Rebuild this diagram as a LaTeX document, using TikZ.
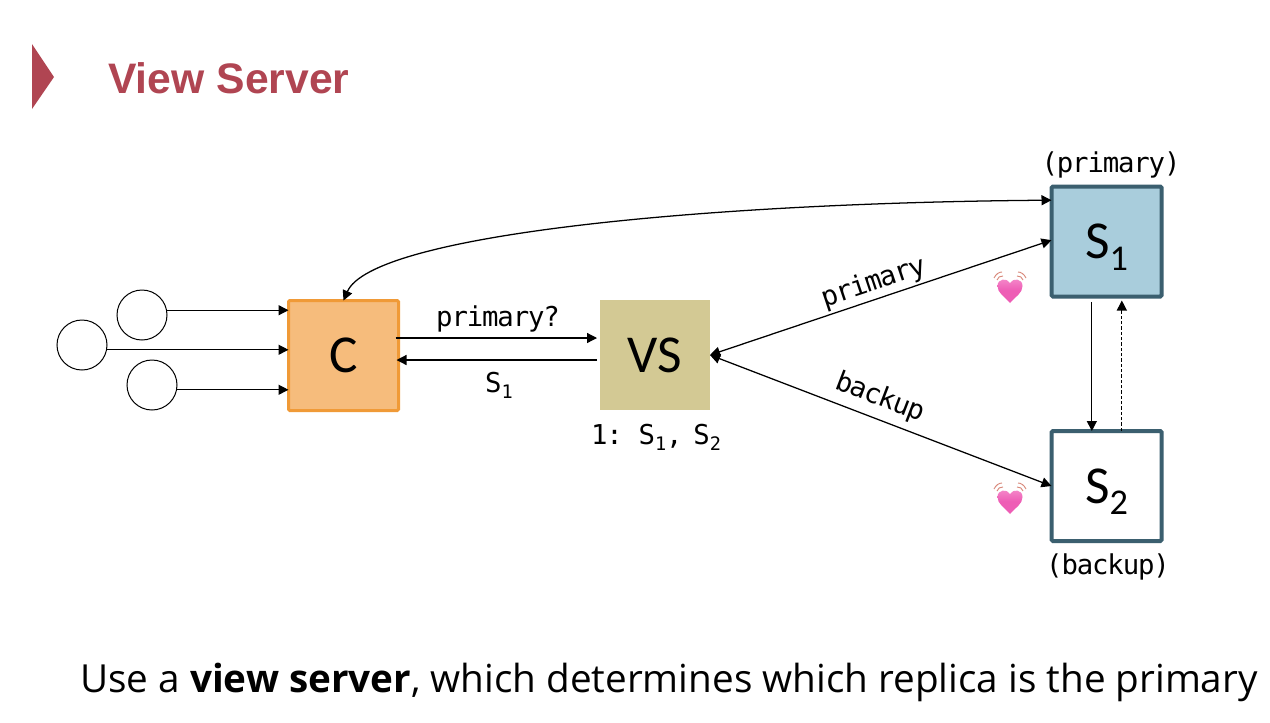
\documentclass[tikz,border=0pt]{standalone}
\usepackage{fontspec}
\setmainfont{Open Sans}
\newfontfamily\arialf{Liberation Sans}
\newfontfamily\calf{Carlito}
\newfontfamily\monof[LetterSpace=-4.2]{DejaVu Sans Mono}
\usetikzlibrary{arrows.meta}
\definecolor{titlered}{HTML}{B04552}
\definecolor{corange}{HTML}{F6BC7C}
\definecolor{corangeb}{HTML}{F09A37}
\definecolor{vskhaki}{HTML}{D3C994}
\definecolor{sblue}{HTML}{A9CDDC}
\definecolor{sborder}{HTML}{3B5F6F}
\definecolor{heartpink}{HTML}{EE5DB5}
\definecolor{hearttop}{HTML}{F58CCB}
\definecolor{heartwave}{HTML}{D98A7C}
\newcommand\lowsub[1]{\smash{\raisebox{-.22em}{\scalebox{.68}{#1}}}}
\tikzset{
  x=0.75pt,y=-0.75pt,
  >={Triangle[length=7.5pt,width=7.5pt]},
  conn/.style={line width=0.95pt,black},
  box/.style={minimum size=82.5pt,inner sep=0pt,outer sep=0pt,font=\calf\fontsize{40pt}{42pt}\selectfont},
  clientbox/.style={box,draw=corangeb,fill=corange,line width=2.25pt,rounded corners=1pt},
  viewbox/.style={box,fill=vskhaki},
  primarybox/.style={box,draw=sborder,fill=sblue,line width=3pt,rounded corners=1pt},
  backupbox/.style={box,draw=sborder,fill=white,line width=3pt,rounded corners=1pt},
  caller/.style={circle,draw=black,fill=white,line width=0.75pt,minimum size=37.5pt,inner sep=0pt,outer sep=0pt},
  monolabel/.style={font=\monof\fontsize{20.5pt}{22pt}\selectfont,black,inner sep=0pt,anchor=base},
  beat/.pic={
    \shade[top color=hearttop,bottom color=heartpink,middle color=heartpink] (0,23) .. controls (-6,16) and (-12.5,13) .. (-12.5,6)
       .. controls (-12.5,-1.5) and (-3,-2.5) .. (0,3)
       .. controls (3,-2.5) and (12.5,-1.5) .. (12.5,6)
       .. controls (12.5,13) and (6,16) .. (0,23) -- cycle;
    \draw[heartwave,line width=0.7pt] (-16,-2) .. controls (-14,-6) and (-11,-8) .. (-8,-8);
    \draw[heartwave,line width=0.7pt] (-13,0) .. controls (-12,-3) and (-10,-4) .. (-7,-4);
    \draw[heartwave,line width=0.7pt] (16,-2) .. controls (14,-6) and (11,-8) .. (8,-8);
    \draw[heartwave,line width=0.7pt] (13,0) .. controls (12,-3) and (10,-4) .. (7,-4);
  }
}
\begin{document}
\begin{tikzpicture}
\useasboundingbox[fill=white] (0,0) rectangle (1270,722);

% title
\fill[titlered] (32,44) -- (54,77) -- (32,109) -- cycle;
\node[anchor=base west,inner sep=0pt,text=titlered,font=\arialf\bfseries\fontsize{32pt}{34pt}\selectfont] (title) at (108,93) {View Server};

% nodes
\node[clientbox] (C) at (343.5,355.5) {C};
\node[viewbox] (VS) at (655,355) {VS};
\node[primarybox] (S1) at (1106.5,241.5) {S\lowsub{1}};
\node[backupbox] (S2) at (1106.5,486) {S\lowsub{2}};
\node[caller] (c1) at (142,315) {};
\node[caller] (c2) at (82,345) {};
\node[caller] (c3) at (152,385) {};

% clients to C
\draw[conn,->] (c1.11.5) -- (c1.11.5 -| C.west);
\draw[conn,->] (c2.-11.5) -- (c2.-11.5 -| C.west);
\draw[conn,->] (c3.-11.5) -- (c3.-11.5 -| C.west);

% C <-> VS
\draw[conn,->] ([xshift=-2.25pt,yshift=13.125pt]C.east) -- ([xshift=-2.25pt,yshift=12.75pt]VS.west);
\draw[conn,->] ([xshift=-2.25pt,yshift=-3.75pt]VS.west) -- ([xshift=-1.5pt,yshift=-3.375pt]C.east);

% VS <-> servers
\draw[conn,<->] (VS.east) -- ([yshift=1pt]S1.west);
\draw[conn,<->] (VS.east) -- (S2.west);

% S1 <-> S2
\draw[conn,->] ([xshift=-11pt,yshift=-4pt]S1.south) -- ([xshift=-11pt]S2.north);
\draw[conn,->,dash pattern=on 2.6pt off 1.4pt] ([xshift=11.5pt]S2.north) -- ([xshift=11.5pt,yshift=-3pt]S1.south);

% C <-> S1 curve
\draw[conn,<->] (C.north) .. controls (372,235) and (700,203) .. ([yshift=31pt]S1.west);

% labels
\node[monolabel] (lq) at (498,326) {primary?};
\node[monolabel] (lr) at (499,392) {S\lowsub{1}};
\node[monolabel] (lv) at (656,444) {1:\hspace{-3.5pt} S\lowsub{1},\hspace{-3.5pt} S\lowsub{2}};
\node[monolabel] (lp) at (1111,172) {(primary)};
\node[monolabel] (lb) at (1108,574) {(backup)};
\node[monolabel,rotate=18.5] (ep) at (876,290) {primary};
\node[monolabel,rotate=-21] (eb) at (877,405) {backup};

% heartbeats
\pic at (1010,280) {beat};
\pic at (1010,491) {beat};

% caption
\node[anchor=base west,inner sep=0pt,font=\fontsize{29pt}{32pt}\selectfont] (cap) at (80,692) {Use a \textbf{view server}, which determines which replica is the primary};
\end{tikzpicture}
\end{document}
